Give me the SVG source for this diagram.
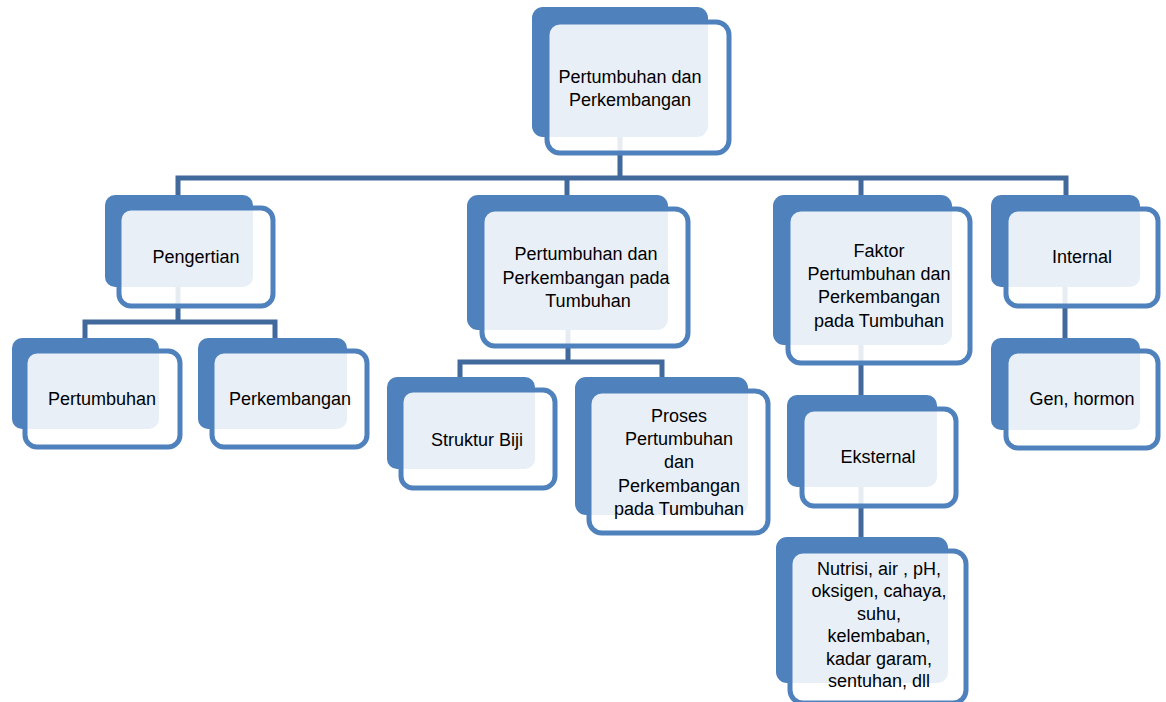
<svg xmlns="http://www.w3.org/2000/svg" width="1166" height="702" viewBox="0 0 1166 702">
<style>
.bk{fill:#4F81BD}
.fr{fill:#FFFFFF;fill-opacity:0.875;stroke:#4F81BD;stroke-width:5}
.cn{stroke:#41699B;stroke-width:5;fill:none;stroke-linecap:square}
text{font-family:"Liberation Sans",Arial,sans-serif;font-size:18px;fill:#000;text-anchor:middle}
</style>
<rect width="1166" height="702" fill="#FFFFFF"/>
<g id="connectors">
<path class="cn" d="M620 137V178M178 178H1066M178 178V194M567 178V194M861 178V194M1066 178V194"/>
<path class="cn" d="M178 287V322M85 322H275M85 322V337M275 322V337"/>
<path class="cn" d="M568 330V362M460 362H662M460 362V376M662 362V376"/>
<path class="cn" d="M861 345V394M861 487V536"/>
<path class="cn" d="M1065 287V337"/>
</g>
<g id="n-root">
<rect class="bk" x="532" y="7" width="176" height="130" rx="11"/>
<rect class="fr" x="547" y="22" width="182" height="131" rx="13"/>
<text x="630" y="83">Pertumbuhan dan</text>
<text x="630" y="106">Perkembangan</text>
</g>
<g id="n-pengertian">
<rect class="bk" x="105" y="195" width="148" height="92" rx="10"/>
<rect class="fr" x="119" y="208" width="154" height="98" rx="12"/>
<text x="196" y="263">Pengertian</text>
</g>
<g id="n-ptumbuhan">
<rect class="bk" x="467" y="195" width="201" height="135" rx="11"/>
<rect class="fr" x="482" y="209" width="206" height="137" rx="13"/>
<text x="586" y="260">Pertumbuhan dan</text>
<text x="586" y="284">Perkembangan pada</text>
<text x="588" y="307">Tumbuhan</text>
</g>
<g id="n-faktor">
<rect class="bk" x="773" y="195" width="179" height="150" rx="11"/>
<rect class="fr" x="788" y="209" width="182" height="154" rx="13"/>
<text x="879" y="257">Faktor</text>
<text x="879" y="280">Pertumbuhan dan</text>
<text x="879" y="303">Perkembangan</text>
<text x="879" y="327">pada Tumbuhan</text>
</g>
<g id="n-internal">
<rect class="bk" x="991" y="195" width="149" height="92" rx="10"/>
<rect class="fr" x="1006" y="209" width="152" height="97" rx="12"/>
<text x="1082" y="263">Internal</text>
</g>
<g id="n-pertumbuhan">
<rect class="bk" x="12" y="338" width="147" height="91" rx="10"/>
<rect class="fr" x="25" y="351" width="155" height="96" rx="12"/>
<text x="102" y="405">Pertumbuhan</text>
</g>
<g id="n-perkembangan">
<rect class="bk" x="198" y="338" width="149" height="91" rx="10"/>
<rect class="fr" x="212" y="351" width="155" height="96" rx="12"/>
<text x="290" y="405">Perkembangan</text>
</g>
<g id="n-struktur">
<rect class="bk" x="387" y="377" width="148" height="92" rx="10"/>
<rect class="fr" x="401" y="390" width="154" height="98" rx="12"/>
<text x="477" y="446">Struktur Biji</text>
</g>
<g id="n-proses">
<rect class="bk" x="575" y="377" width="173" height="138" rx="11"/>
<rect class="fr" x="589" y="391" width="179" height="142" rx="13"/>
<text x="679" y="422">Proses</text>
<text x="679" y="445">Pertumbuhan</text>
<text x="679" y="468">dan</text>
<text x="679" y="492">Perkembangan</text>
<text x="679" y="515">pada Tumbuhan</text>
</g>
<g id="n-eksternal">
<rect class="bk" x="787" y="395" width="150" height="92" rx="10"/>
<rect class="fr" x="802" y="409" width="154" height="97" rx="12"/>
<text x="878" y="463">Eksternal</text>
</g>
<g id="n-gen">
<rect class="bk" x="991" y="338" width="149" height="92" rx="10"/>
<rect class="fr" x="1006" y="351" width="152" height="97" rx="12"/>
<text x="1082" y="405">Gen, hormon</text>
</g>
<g id="n-nutrisi">
<rect class="bk" x="776" y="537" width="172" height="146" rx="11"/>
<rect class="fr" x="790" y="551" width="176" height="152" rx="13"/>
<text x="879" y="575">Nutrisi, air , pH,</text>
<text x="879" y="597">oksigen, cahaya,</text>
<text x="879" y="620">suhu,</text>
<text x="879" y="642">kelembaban,</text>
<text x="879" y="665">kadar garam,</text>
<text x="879" y="687">sentuhan, dll</text>
</g>
</svg>
